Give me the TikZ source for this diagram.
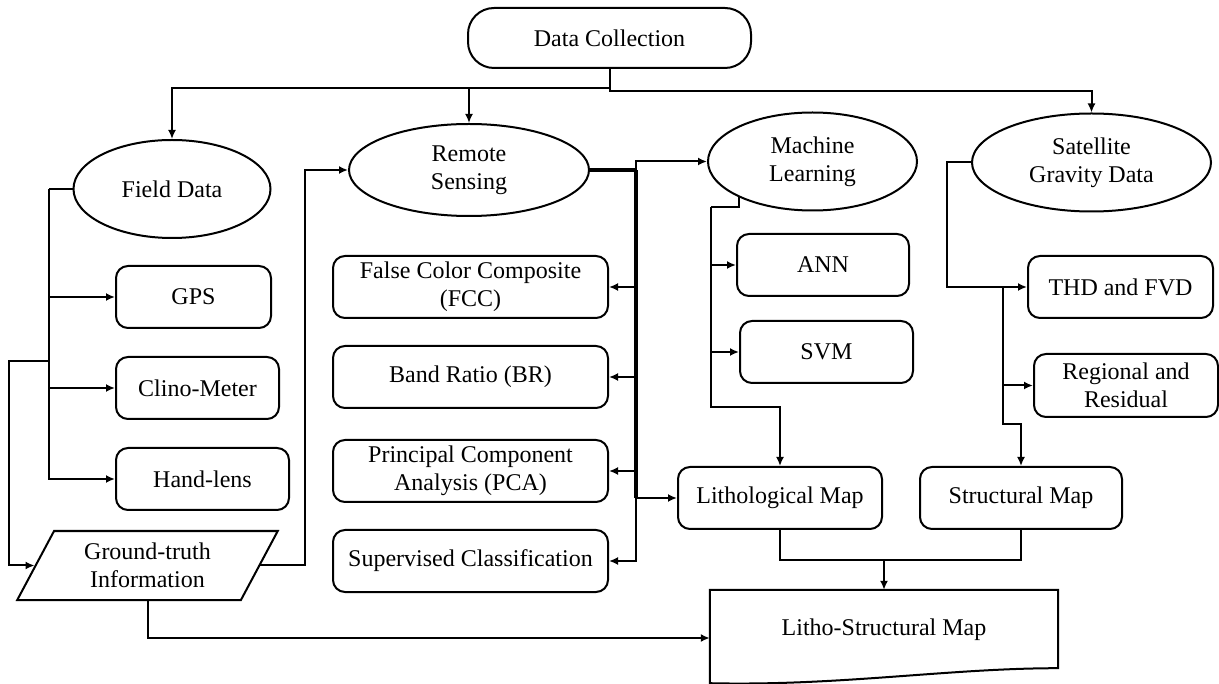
\documentclass[tikz,border=0pt]{standalone}
\usepackage{fontspec}
\setmainfont{Liberation Serif}
\usetikzlibrary{shapes.geometric, arrows.meta, positioning}
\tikzset{
    startbox/.style={rectangle, rounded corners=26pt, minimum width=283pt, minimum height=60pt, draw=black, line width=2pt, text centered},
    branch/.style={ellipse, minimum height=98pt, inner sep=2pt, draw=black, line width=2pt, align=center},
    process/.style={rectangle, rounded corners=12pt, minimum height=62pt, draw=black, line width=2pt, align=center},
    inputoutput/.style={trapezium, trapezium left angle=63, trapezium right angle=117, trapezium stretches=true, minimum width=261pt, minimum height=69pt, draw=black, line width=2pt, align=center},
    line/.style={line width=2pt},
    trunk/.style={line width=4pt},
    arrow/.style={line width=2pt,-{Latex[length=9pt,width=8pt]}}
}
\begin{document}
\begin{tikzpicture}[
        x=1pt, y=-1pt, % one unit per pixel of the layout
        font=\fontsize{24pt}{28pt}\selectfont
    ]
        \useasboundingbox (0,0) rectangle (1219,684);

        % Top level
        \node[startbox] (dc) at (609.5,38) {Data Collection};
        \node[branch, minimum width=197pt] (field) at (172,189) {Field Data};
        \node[branch, minimum width=240pt, minimum height=92pt] (remote) at (469,170) {Remote\\Sensing};
        \node[branch, minimum width=209pt] (ml) at (812.5,161.5) {Machine\\Learning};
        \node[branch, minimum width=239pt] (sat) at (1091.5,162.5) {Satellite\\Gravity Data};

        % Field data
        \node[process, minimum width=155pt, anchor=north west] (gps) at (115,265) {GPS};
        \node[process, minimum width=163pt, below=27pt of gps.south west, anchor=north west] (clino) {Clino-Meter};
        \node[process, minimum width=173pt, below=27pt of clino.south west, anchor=north west] (hand) {Hand-lens};
        \node[inputoutput] (gt) at (147.5,565.5) {Ground-truth\\Information};

        % Remote sensing
        \node[process, minimum width=275pt, anchor=north west] (fcc) at (332,255) {False Color Composite\\(FCC)};
        \node[process, minimum width=275pt, below=26pt of fcc.south west, anchor=north west] (br) {Band Ratio (BR)};
        \node[process, minimum width=275pt, below=30pt of br.south west, anchor=north west] (pca) {Principal Component\\Analysis (PCA)};
        \node[process, minimum width=275pt, below=26pt of pca.south west, anchor=north west] (sup) {Supervised Classification};

        % Machine learning
        \node[process, minimum width=172pt, anchor=north west] (ann) at (736,233) {ANN};
        \node[process, minimum width=173pt, below=23pt of ann.south west, anchor=north west, xshift=3pt] (svm) {SVM};

        % Gravity
        \node[process, minimum width=185pt, anchor=north west] (thd) at (1027,255) {THD and FVD};
        \node[process, minimum width=184pt, minimum height=63pt, anchor=north west] (reg) at (1033,353) {Regional and\\Residual};

        % Maps
        \node[process, minimum width=204pt, anchor=north west] (litho) at (677,466) {Lithological Map};
        \node[process, minimum width=202pt, right=36pt of litho] (struct) {Structural Map};
        \node[minimum width=348pt, minimum height=80pt] (lsm) at (884,630) {Litho-Structural Map};
        \draw[line] (lsm.north west) -- (lsm.north east) -- ([yshift=2pt]lsm.south east)
            .. controls ([xshift=-110pt,yshift=2pt]lsm.south east) and ([xshift=130pt,yshift=-16pt]lsm.south west) .. ([yshift=-13pt]lsm.south west) -- cycle;

        % Arrows
        \draw[arrow] (dc.south) -- ++(0,19) coordinate (dj) -| (field.north);
        \draw[arrow] (dj) -| (remote.north);
        \draw[arrow] (dc.south) -- ++(0,22) -| (sat.north);

        \draw[line] (field.west) -- ++(-23.5,0) coordinate (fj);
        \draw[arrow] (fj) |- (gps.west);
        \draw[arrow] (fj) |- (clino.west);
        \draw[arrow] (fj) |- (hand.west);
        \coordinate (gj) at (fj |- 0,361);
        \draw[arrow] (gj) -- ++(-40,0) |- (gt.west);
        \draw[arrow] (gt.east) -| ([xshift=-43pt]remote.west) -- (remote.west);
        \draw[arrow] (gt.south) |- ([yshift=-8pt]lsm.west);

        \draw[trunk] (remote.east) -- ++(46,0) coordinate (rj);
        \draw[trunk] (rj) -- (rj |- litho.west);
        \draw[arrow] (rj) |- (ml.west);
        \draw[arrow] (rj) |- (fcc.east);
        \draw[arrow] (rj) |- (br.east);
        \draw[arrow] (rj) |- (pca.east);
        \draw[arrow] (rj) |- (sup.east);
        \draw[arrow] (rj) |- (litho.west);

        \draw[line] (ml.206) |- ++(-28,10) coordinate (mj);
        \draw[arrow] (mj) |- (ann.west);
        \draw[arrow] (mj) |- (svm.west);
        \draw[arrow] (mj) -- ++(0,200) -| (litho.north);

        \draw[arrow] (sat.west) -- ++(-24.5,0) |- (thd.west);
        \path (thd.west) ++(-24,0) coordinate (sj);
        \draw[arrow] (sj) |- (reg.west);
        \draw[arrow] (sj) -- ++(0,137.5) -| (struct.north);

        \draw[line] (litho.south) -- ++(0,30) coordinate (lj) -| (struct.south);
        \draw[arrow] (lj -| lsm.north) -- (lsm.north);
    \end{tikzpicture}
\end{document}
